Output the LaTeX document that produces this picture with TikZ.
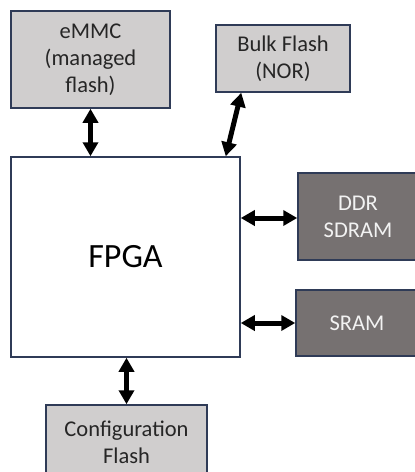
\documentclass[tikz,border=0pt]{standalone}
\usepackage{fontspec}
\setmainfont{Carlito}
\usetikzlibrary{arrows.meta,calc}
\definecolor{edgeblue}{HTML}{2F3B57}
\definecolor{lightbox}{HTML}{D0CECE}
\definecolor{darkbox}{HTML}{767171}
\definecolor{inkgray}{HTML}{262626}
\definecolor{paleink}{HTML}{F2F2F2}
\tikzset{
  blk/.style={draw=edgeblue, line width=1.5pt, rectangle, inner sep=0pt,
    align=center, font=\fontsize{22.5}{27}\selectfont},
  lightblk/.style={blk, fill=lightbox, text=inkgray},
  darkblk/.style={blk, fill=darkbox, text=paleink},
  bus/.style={line width=5pt, {Triangle[width=15pt,length=14pt]}-{Triangle[width=15pt,length=14pt]}}
}
\begin{document}
\begin{tikzpicture}[x=1pt,y=-1pt]
  \useasboundingbox (0,0) rectangle (415,472);
  \begin{scope}
    \clip (0,0) rectangle (415,472);
    \node[lightblk, minimum width=159pt, minimum height=97pt] (emmc) at (90.5,59.5)
      {eMMC\\(managed\\flash)};
    \node[lightblk, minimum width=134pt, minimum height=67pt] (bulk) at (283,58.5)
      {Bulk Flash\\(NOR)};
    \node[blk, fill=white, minimum width=229pt, minimum height=200pt] (fpga) at (125.5,257)
      {\fontsize{34}{40}\selectfont FPGA};
    \node[darkblk, minimum width=120pt, minimum height=87pt] (ddr) at (358,216.5)
      {DDR\\SDRAM};
    \node[darkblk, minimum width=122pt, minimum height=66pt] (sram) at (357,323)
      {SRAM};
    \node[lightblk, minimum width=161pt, minimum height=75pt] (cfg) at (126.5,442.5)
      {Configuration\\Flash};
  \end{scope}
  % buses between the FPGA and its memories
  \draw[bus] (emmc.south) -- (emmc.south |- fpga.north);
  \draw[bus] ($(bulk.south west)+(26,0)$) -- ($(fpga.north east)+(-15,0)$);
  \draw[bus] (fpga.east |- 0,218) -- (ddr.west |- 0,218);
  \draw[bus] (fpga.east |- sram.west) -- (sram.west);
  \draw[bus] (cfg.north) -- (cfg.north |- fpga.south);
\end{tikzpicture}
\end{document}
